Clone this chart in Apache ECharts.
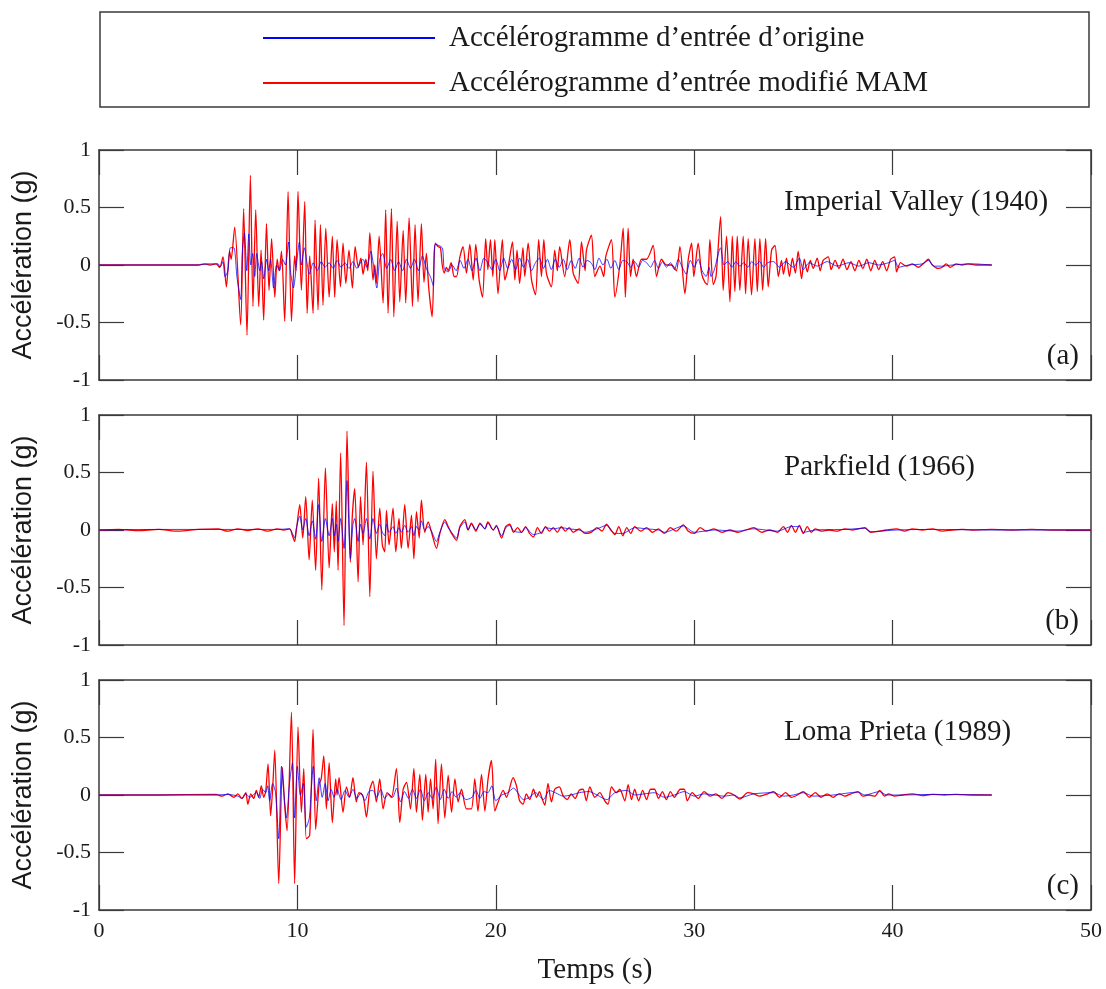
<!DOCTYPE html>
<html>
<head>
<meta charset="utf-8">
<script src="https://cdn.jsdelivr.net/npm/echarts@6/dist/echarts.min.js"></script>
<style>html,body{margin:0;padding:0;background:#fff;}#chart{width:1106px;height:989px;}</style>
</head>
<body>
<div id="chart"></div>
<script>
// ---- tick values ----
const xTicks = [0, 10, 20, 30, 40, 50];
const yTicks = [-1, -0.5, 0, 0.5, 1];

// ---- series names & panel labels ----
const seriesNames = ['Accélérogramme d’entrée d’origine', 'Accélérogramme d’entrée modifié MAM'];
const panelTitles = ['Imperial Valley (1940)', 'Parkfield (1966)', 'Loma Prieta (1989)'];
const panelTags = ['(a)', '(b)', '(c)'];

// ---- (a) Imperial Valley: [time s, acceleration g] ----
const imperialOriginal = [[0,0],[5,0],[5.5,0.01],[6.0,0.01],[6.1,-0.02],[6.25,0.03],[6.35,-0.1],[6.5,-0.05],[6.62,0.15],[6.8,0.15],[6.95,-0.1],[7.14,-0.3],[7.22,0.1],[7.33,0.28],[7.45,-0.05],[7.55,0.27],[7.65,0.0],[7.75,0.1],[7.85,-0.1],[7.95,0.1],[8.1,-0.05],[8.2,0.03],[8.3,-0.12],[8.45,0.05],[8.55,-0.05],[8.65,0.05],[8.8,-0.2],[8.95,0.0],[9.1,-0.05],[9.25,0.05],[9.4,0.0],[9.55,0.2],[9.65,-0.05],[9.8,-0.2],[9.95,0.0],[10.1,0.2],[10.2,0.0],[10.35,0.15],[10.5,0.0],[10.6,-0.08],[10.8,0.02],[11.0,-0.05],[11.2,0.03],[11.4,-0.02],[11.6,0.02],[11.8,-0.03],[12.0,0.04],[12.2,-0.02],[12.4,0.02],[12.6,-0.03],[12.8,0.03],[13.0,-0.03],[13.3,0.05],[13.5,-0.02],[13.7,0.12],[13.85,-0.02],[14.0,-0.2],[14.15,0.05],[14.3,0.1],[14.5,-0.03],[14.7,0.05],[14.9,-0.05],[15.1,0.03],[15.3,-0.05],[15.5,0.05],[15.7,-0.03],[15.9,0.05],[16.1,-0.05],[16.3,0.08],[16.5,-0.03],[16.7,-0.1],[16.85,-0.18],[16.95,0.18],[17.3,0.15],[17.4,-0.03],[17.6,-0.06],[17.8,0.0],[18.0,-0.05],[18.2,0.04],[18.4,-0.03],[18.6,0.05],[18.8,-0.05],[19.0,0.06],[19.2,-0.05],[19.4,0.06],[19.6,0.02],[19.8,-0.04],[20.0,0.05],[20.2,-0.05],[20.4,0.06],[20.6,-0.03],[20.8,0.05],[21.0,-0.04],[21.2,0.06],[21.4,-0.02],[21.6,0.05],[21.8,-0.05],[22.0,0.02],[22.2,0.06],[22.4,-0.03],[22.6,0.05],[22.8,-0.04],[23.0,0.05],[23.2,-0.02],[23.4,0.05],[23.6,-0.04],[23.8,0.04],[24.0,-0.03],[24.2,0.06],[24.4,-0.02],[24.6,0.04],[24.8,0.02],[25.0,-0.04],[25.2,0.06],[25.4,0.0],[25.6,0.05],[25.8,-0.03],[26.0,0.04],[26.2,-0.04],[26.4,0.04],[26.6,0.03],[26.8,-0.02],[27.0,0.03],[27.2,-0.02],[27.4,0.04],[27.6,0.02],[27.8,-0.02],[28.0,0.04],[28.2,-0.03],[28.4,0.03],[28.6,-0.02],[28.8,0.02],[29.0,-0.04],[29.2,0.05],[29.4,-0.02],[29.6,-0.08],[29.8,0.04],[30.0,-0.02],[30.2,0.05],[30.4,-0.05],[30.6,-0.1],[30.75,-0.02],[30.85,-0.1],[31.0,-0.05],[31.33,0.15],[31.5,0.0],[31.7,0.03],[31.9,-0.02],[32.1,0.03],[32.3,-0.01],[32.5,0.02],[32.7,-0.02],[32.9,0.03],[33.1,0.0],[33.3,0.03],[33.5,-0.02],[33.7,0.02],[34.0,0.03],[34.3,-0.02],[34.6,0.03],[35.0,-0.02],[35.3,0.06],[35.5,-0.04],[35.8,0.02],[36.2,-0.01],[36.7,0.03],[37.2,-0.01],[37.8,0.02],[38.3,-0.01],[38.8,0.02],[39.3,0.0],[39.8,0.02],[40.1,0.04],[40.3,-0.02],[40.8,0.0],[41.5,0.01],[41.8,0.04],[42.1,-0.01],[42.5,-0.01],[43.0,0.0],[44.0,0.01],[45.0,0.0]];
const imperialModified = [[0,0],[5.0,0],[5.3,0.01],[5.6,0.0],[5.9,0.01],[6.08,-0.02],[6.25,0.07],[6.42,-0.19],[6.58,0.12],[6.66,0.05],[6.84,0.33],[7.14,-0.52],[7.29,0.49],[7.46,-0.61],[7.63,0.78],[7.76,-0.36],[7.90,0.48],[8.05,-0.36],[8.17,0.13],[8.30,-0.48],[8.44,0.36],[8.57,-0.22],[8.70,0.23],[8.86,-0.28],[8.98,0.05],[9.08,-0.05],[9.2,0.12],[9.36,-0.49],[9.53,0.64],[9.70,-0.49],[9.86,0.08],[9.93,-0.05],[10.03,0.64],[10.20,-0.22],[10.37,0.55],[10.49,-0.42],[10.62,0.08],[10.79,-0.42],[10.89,0.39],[11.04,-0.39],[11.16,0.35],[11.29,-0.35],[11.43,0.32],[11.60,-0.28],[11.76,0.25],[11.88,-0.28],[12.00,0.22],[12.17,-0.19],[12.30,0.19],[12.44,-0.16],[12.60,0.13],[12.77,-0.2],[12.91,0.16],[13.07,-0.02],[13.2,0.06],[13.31,-0.08],[13.45,0.05],[13.55,-0.05],[13.65,0.28],[13.81,-0.13],[13.9,0.0],[13.98,-0.16],[14.12,0.25],[14.32,-0.33],[14.45,0.48],[14.57,-0.42],[14.74,0.49],[14.86,-0.45],[15.03,0.38],[15.16,-0.32],[15.33,0.30],[15.46,-0.33],[15.63,0.41],[15.80,-0.36],[15.93,0.35],[16.08,-0.32],[16.25,0.36],[16.38,-0.15],[16.5,0.1],[16.62,-0.2],[16.79,-0.45],[16.9,0.1],[16.96,0.19],[17.09,0.16],[17.21,0.15],[17.3,0.0],[17.4,-0.07],[17.51,-0.02],[17.6,-0.05],[17.75,0.02],[17.9,-0.1],[18.02,-0.1],[18.19,0.07],[18.35,0.16],[18.52,-0.07],[18.69,0.18],[18.86,-0.13],[18.99,0.18],[19.16,-0.13],[19.33,-0.28],[19.49,0.23],[19.6,-0.04],[19.73,0.22],[19.85,-0.1],[19.95,0.22],[20.11,-0.25],[20.33,0.22],[20.45,-0.13],[20.62,-0.02],[20.84,0.2],[20.96,-0.13],[21.07,0.13],[21.2,-0.16],[21.37,0.15],[21.46,-0.1],[21.63,0.19],[21.8,-0.13],[22.0,-0.26],[22.16,0.22],[22.3,-0.1],[22.42,0.22],[22.55,-0.07],[22.8,-0.19],[22.97,0.13],[23.1,-0.05],[23.22,0.16],[23.47,-0.1],[23.73,0.22],[23.9,-0.07],[24.15,-0.16],[24.32,0.2],[24.5,-0.05],[24.57,0.13],[24.82,0.26],[24.99,-0.1],[25.25,-0.01],[25.44,-0.1],[25.54,0.07],[25.83,0.22],[26.0,-0.28],[26.25,0.0],[26.42,0.32],[26.53,-0.28],[26.67,0.32],[26.79,-0.1],[26.92,0.05],[27.09,-0.1],[27.34,0.05],[27.6,0.05],[27.93,0.17],[28.1,-0.1],[28.35,0.05],[28.6,0.0],[28.86,0.0],[29.1,-0.05],[29.28,0.16],[29.53,-0.25],[29.7,0.05],[29.87,0.19],[29.98,-0.1],[30.2,0.19],[30.37,-0.07],[30.54,-0.15],[30.67,-0.17],[30.79,0.22],[30.96,-0.17],[31.1,-0.1],[31.33,0.42],[31.46,-0.22],[31.63,0.25],[31.8,-0.32],[31.92,0.25],[32.05,-0.23],[32.17,0.25],[32.3,-0.22],[32.47,0.25],[32.59,-0.25],[32.72,0.23],[32.89,-0.26],[33.06,0.23],[33.18,-0.23],[33.31,0.23],[33.45,-0.22],[33.6,0.23],[33.73,-0.19],[33.9,0.13],[34.07,0.17],[34.24,-0.1],[34.4,0.04],[34.5,-0.08],[34.65,0.06],[34.8,-0.1],[34.95,0.06],[35.1,-0.07],[35.24,0.12],[35.41,-0.12],[35.55,0.05],[35.7,-0.06],[35.85,0.04],[36.0,-0.03],[36.2,0.06],[36.35,-0.05],[36.5,0.04],[36.76,0.07],[36.9,-0.04],[37.1,0.04],[37.3,-0.03],[37.5,0.05],[37.7,-0.04],[37.9,0.03],[38.1,-0.05],[38.3,0.04],[38.5,-0.03],[38.7,0.05],[38.9,-0.05],[39.1,0.04],[39.3,-0.04],[39.5,0.03],[39.7,-0.05],[39.9,0.05],[40.1,0.07],[40.2,-0.06],[40.4,0.02],[40.7,-0.01],[41.0,0.01],[41.3,-0.02],[41.6,0.02],[41.8,0.05],[42.0,0.0],[42.3,-0.03],[42.5,-0.02],[42.7,0.01],[42.9,-0.02],[43.2,0.01],[43.5,0.0],[43.8,0.01],[44.2,0.0],[45.0,0.0]];

// ---- (b) Parkfield ----
const parkfieldOriginal = [[0,0],[3,0.005],[6,0.005],[9,0.005],[9.6,0.01],[9.75,-0.03],[9.86,-0.07],[9.95,0.02],[10.12,0.12],[10.27,0.0],[10.42,0.1],[10.59,-0.05],[10.75,0.08],[10.92,-0.08],[11.07,0.22],[11.23,-0.1],[11.41,0.1],[11.6,-0.05],[11.76,0.1],[11.86,-0.05],[11.96,0.05],[12.05,-0.1],[12.18,0.1],[12.35,-0.16],[12.5,0.43],[12.67,-0.25],[12.8,0.05],[12.89,0.1],[13.06,-0.1],[13.18,0.05],[13.31,-0.03],[13.48,0.1],[13.65,-0.08],[13.81,0.1],[13.98,-0.03],[14.15,0.05],[14.28,-0.02],[14.4,-0.05],[14.49,0.05],[14.62,-0.02],[14.82,0.03],[14.96,-0.03],[15.12,0.02],[15.24,-0.02],[15.41,0.04],[15.58,-0.02],[15.75,0.03],[15.87,-0.05],[16.0,0.03],[16.14,0.0],[16.25,0.08],[16.42,0.0],[16.59,0.03],[16.76,-0.01],[17.01,-0.1],[17.18,-0.02],[17.43,0.07],[17.6,0.02],[17.77,-0.02],[18.02,-0.07],[18.19,0.02],[18.44,0.07],[18.6,0.0],[18.77,0.05],[19.0,0.0],[19.2,0.05],[19.45,0.01],[19.6,0.06],[19.87,0.0],[20.03,0.03],[20.29,-0.05],[20.5,0.02],[20.7,0.04],[20.9,-0.01],[21.3,-0.02],[21.5,0.02],[21.9,-0.04],[22.3,-0.02],[22.5,0.02],[22.9,0.01],[23.3,0.02],[23.7,0.01],[24.2,0.0],[24.5,-0.02],[25.1,0.01],[25.58,0.04],[26.0,-0.03],[26.4,-0.03],[27.0,0.02],[27.6,0.01],[28.2,0.0],[28.5,-0.02],[29.45,0.035],[30.0,-0.02],[31.0,0.0],[32.2,-0.01],[33.0,0.01],[34.2,-0.01],[34.9,0.03],[35.3,0.03],[35.5,-0.02],[36.1,0.0],[37.6,0.005],[38.6,0.015],[38.9,-0.015],[40.2,0.0],[42,0.005],[45,0],[50,0]];
const parkfieldModified = [[0,0],[1,0.005],[2,-0.005],[3,0.005],[4,-0.01],[5,0.005],[6,0.01],[6.5,-0.01],[7,0.01],[7.5,-0.005],[8,0.01],[8.5,-0.01],[9,0.01],[9.3,0.0],[9.61,0.01],[9.75,-0.05],[9.86,-0.1],[9.95,0.0],[10.12,0.22],[10.27,-0.07],[10.42,0.29],[10.59,-0.26],[10.75,0.26],[10.92,-0.35],[11.07,0.45],[11.23,-0.52],[11.41,0.54],[11.6,-0.33],[11.76,0.23],[11.86,-0.19],[11.96,0.25],[12.05,-0.35],[12.18,0.67],[12.35,-0.83],[12.5,0.86],[12.67,-0.28],[12.77,0.13],[12.89,0.36],[13.06,-0.45],[13.18,0.29],[13.31,-0.13],[13.48,0.59],[13.65,-0.58],[13.81,0.51],[13.98,-0.25],[14.15,0.19],[14.28,-0.13],[14.4,-0.19],[14.49,0.17],[14.62,-0.13],[14.82,0.19],[14.96,-0.19],[15.12,0.1],[15.24,-0.16],[15.41,0.22],[15.58,-0.16],[15.75,0.13],[15.87,-0.25],[16.0,0.16],[16.14,-0.07],[16.25,0.26],[16.42,-0.02],[16.59,0.07],[16.76,-0.02],[17.01,-0.16],[17.18,-0.03],[17.43,0.09],[17.6,0.03],[17.77,-0.03],[18.02,-0.09],[18.19,0.03],[18.44,0.09],[18.6,0.0],[18.77,0.06],[19.0,-0.01],[19.2,0.06],[19.45,0.01],[19.6,0.07],[19.87,0.0],[20.03,0.04],[20.29,-0.07],[20.5,0.03],[20.7,0.05],[20.9,-0.02],[21.1,0.02],[21.3,-0.02],[21.5,0.03],[21.7,-0.03],[21.9,-0.06],[22.1,0.02],[22.3,-0.03],[22.5,0.03],[22.7,-0.01],[22.9,0.02],[23.1,-0.02],[23.3,0.03],[23.5,-0.01],[23.7,0.02],[23.9,-0.02],[24.2,0.01],[24.5,-0.03],[24.8,-0.02],[25.1,0.02],[25.35,-0.01],[25.58,0.05],[25.8,0.0],[26.0,-0.04],[26.2,0.03],[26.4,-0.05],[26.6,0.02],[26.8,-0.03],[27.0,0.03],[27.3,-0.01],[27.6,0.02],[27.9,-0.02],[28.2,0.01],[28.5,-0.03],[28.8,0.02],[29.1,-0.01],[29.45,0.045],[29.7,-0.01],[30.0,-0.03],[30.3,0.02],[30.6,-0.01],[31.0,0.01],[31.4,-0.02],[31.8,0.0],[32.2,-0.02],[32.6,0.0],[33.0,0.02],[33.4,-0.02],[33.8,0.0],[34.2,-0.02],[34.5,0.03],[34.7,-0.02],[34.9,0.04],[35.1,-0.02],[35.3,0.04],[35.5,-0.03],[35.7,0.03],[35.9,-0.02],[36.1,0.01],[36.4,-0.01],[36.8,0.0],[37.2,-0.01],[37.6,0.01],[38.0,0.0],[38.3,0.01],[38.6,0.02],[38.9,-0.02],[39.3,-0.01],[39.7,0.0],[40.2,0.01],[40.6,-0.01],[41.0,0.01],[41.5,0.0],[42.0,0.01],[42.5,-0.01],[43.0,0.0],[43.5,0.005],[44,0],[45,0.005],[46,0],[47,0.005],[48,0],[49,0],[50,0]];

// ---- (c) Loma Prieta ----
const lomaOriginal = [[0,0],[5.9,0.0],[6.5,0.005],[7.0,-0.01],[7.2,-0.03],[7.4,0.01],[7.6,-0.02],[7.93,0.02],[8.1,-0.03],[8.25,0.05],[8.4,0.02],[8.5,0.08],[8.6,-0.05],[8.75,0.1],[8.9,0.02],[9.06,-0.38],[9.2,0.25],[9.3,0.05],[9.45,-0.2],[9.6,0.1],[9.75,0.28],[9.86,-0.2],[10.0,0.25],[10.15,0.0],[10.3,0.1],[10.45,-0.28],[10.6,-0.2],[10.7,0.05],[10.8,0.25],[10.95,-0.05],[11.1,0.15],[11.25,-0.02],[11.4,0.1],[11.55,-0.05],[11.7,0.05],[11.85,-0.02],[12.0,0.05],[12.2,-0.04],[12.4,0.04],[12.6,-0.02],[12.8,0.05],[13.0,-0.03],[13.2,0.02],[13.4,-0.05],[13.6,0.03],[13.8,0.04],[14.0,-0.02],[14.2,0.05],[14.4,-0.03],[14.6,0.01],[14.8,-0.02],[15.0,0.06],[15.2,-0.06],[15.4,0.03],[15.6,-0.03],[15.8,0.05],[16.0,-0.03],[16.2,0.05],[16.4,-0.05],[16.6,0.02],[16.8,-0.03],[17.0,0.07],[17.2,-0.04],[17.4,0.05],[17.6,-0.03],[17.8,0.03],[18.0,-0.02],[18.2,0.02],[18.5,-0.04],[18.8,-0.02],[19.0,0.04],[19.2,-0.03],[19.4,0.03],[19.6,0.02],[19.8,0.08],[20.0,-0.05],[20.3,0.0],[20.6,0.02],[20.9,0.06],[21.1,0.02],[21.4,-0.04],[21.7,-0.02],[22.0,0.02],[22.4,-0.04],[22.7,0.04],[23.0,0.02],[23.4,-0.01],[23.8,0.0],[24.2,0.02],[24.7,0.03],[25.1,0.0],[25.6,-0.04],[26.0,0.02],[26.6,0.04],[27.0,0.0],[27.5,0.01],[28.0,0.02],[28.5,-0.02],[29.0,0.0],[29.5,0.03],[30.0,-0.01],[30.5,0.01],[31.0,0.0],[31.5,-0.01],[32.0,0.0],[32.3,-0.025],[33,0.01],[34,0.02],[34.5,-0.01],[35,0.0],[35.5,0.02],[36,-0.01],[37,0.0],[38.26,0.025],[38.6,0.0],[39.35,0.03],[39.7,0.0],[40.5,0.0],[42,0.005],[45,0]];
const lomaModified = [[0,0],[3,0],[5.9,0.005],[6.2,-0.01],[6.5,0.01],[6.8,-0.02],[7.0,0.01],[7.2,-0.03],[7.4,0.02],[7.5,-0.08],[7.65,0.01],[7.8,-0.03],[7.93,0.04],[8.05,-0.02],[8.18,0.08],[8.3,-0.02],[8.4,0.03],[8.52,0.27],[8.65,-0.18],[8.75,0.05],[8.86,0.39],[9.06,-0.77],[9.24,0.24],[9.36,-0.09],[9.48,-0.31],[9.70,0.72],[9.86,-0.77],[10.03,0.59],[10.2,-0.15],[10.32,0.23],[10.45,-0.38],[10.62,-0.35],[10.79,0.57],[10.92,-0.3],[11.1,0.1],[11.2,0.14],[11.33,0.34],[11.46,-0.12],[11.6,0.28],[11.76,-0.24],[11.93,0.14],[12.0,0.0],[12.1,0.15],[12.3,-0.15],[12.47,0.07],[12.63,-0.02],[12.8,0.15],[12.97,-0.06],[13.1,0.02],[13.31,-0.01],[13.48,-0.19],[13.65,0.05],[13.81,0.12],[13.98,-0.06],[14.15,0.14],[14.32,-0.12],[14.52,0.02],[14.74,-0.02],[14.99,0.23],[15.16,-0.24],[15.33,0.05],[15.5,0.11],[15.7,-0.12],[15.87,0.23],[16.0,-0.15],[16.17,0.18],[16.3,-0.22],[16.47,0.18],[16.59,-0.15],[16.71,0.14],[16.84,-0.12],[16.97,0.31],[17.09,-0.25],[17.26,0.27],[17.43,-0.2],[17.6,0.17],[17.77,-0.15],[17.94,0.14],[18.1,-0.06],[18.27,0.05],[18.52,-0.12],[18.77,-0.12],[18.94,0.14],[19.1,-0.14],[19.28,0.18],[19.45,-0.14],[19.61,0.14],[19.78,0.3],[19.95,-0.14],[20.12,-0.06],[20.37,0.04],[20.54,-0.02],[20.87,0.15],[21.04,0.08],[21.2,-0.05],[21.37,-0.08],[21.54,0.01],[21.71,-0.04],[21.9,0.05],[22.05,-0.02],[22.2,0.03],[22.35,-0.04],[22.47,-0.09],[22.63,0.1],[22.8,-0.06],[22.97,0.05],[23.2,0.07],[23.4,-0.01],[23.6,-0.04],[23.8,0.01],[24.0,-0.03],[24.2,0.04],[24.4,0.05],[24.56,-0.05],[24.74,0.07],[24.99,-0.02],[25.24,0.02],[25.49,-0.05],[25.66,-0.08],[25.83,0.07],[26.08,0.02],[26.25,0.05],[26.5,-0.05],[26.67,0.09],[26.84,-0.04],[27.0,0.05],[27.2,-0.05],[27.4,0.04],[27.6,-0.04],[27.8,0.05],[28.0,0.05],[28.2,-0.03],[28.4,0.03],[28.6,-0.04],[28.8,0.03],[29.0,-0.02],[29.3,0.05],[29.5,0.05],[29.65,-0.05],[29.9,0.02],[30.2,-0.03],[30.5,0.03],[30.8,-0.01],[31.1,0.01],[31.4,-0.03],[31.7,0.02],[32.0,0.0],[32.3,-0.035],[32.7,0.02],[33.0,0.01],[33.3,-0.01],[33.7,0.01],[34.0,0.03],[34.3,-0.02],[34.6,0.02],[34.9,-0.02],[35.2,0.0],[35.5,0.03],[35.8,-0.02],[36.1,0.02],[36.4,-0.02],[36.7,0.01],[37.0,-0.02],[37.3,0.01],[37.6,-0.01],[37.9,0.01],[38.26,0.03],[38.5,-0.01],[38.8,0.0],[39.1,-0.01],[39.35,0.04],[39.6,-0.01],[39.8,0.01],[40.1,-0.01],[40.5,0.0],[41,0.01],[41.5,-0.005],[42,0.005],[42.6,0.0],[43.2,0.005],[44,0],[45,0]];

const panels = [
  { orig: imperialOriginal, mod: imperialModified },
  { orig: parkfieldOriginal, mod: parkfieldModified },
  { orig: lomaOriginal, mod: lomaModified }
];

const SERIF = '"Liberation Serif", "Times New Roman", serif';
const SANS = '"Liberation Sans", Arial, sans-serif';
const TXT = '#1a1a1a';
const AX = '#3a3a3a';
const gridLeft = 99, gridWidth = 992, gridHeight = 230;
const gridTops = [150, 415, 680];

const grids = [], xAxes = [], yAxes = [], series = [], graphics = [];
gridTops.forEach((top, i) => {
  grids.push({ left: gridLeft, top: top, width: gridWidth, height: gridHeight, show: false });
  const isLast = i === gridTops.length - 1;
  const xBase = {
    gridIndex: i, type: 'value', min: xTicks[0], max: xTicks[xTicks.length - 1], interval: xTicks[1] - xTicks[0],
    axisLine: { show: true, onZero: false, lineStyle: { color: AX, width: 1.5 } },
    axisTick: { show: true, inside: true, length: 25, lineStyle: { color: AX, width: 1.2 } },
    splitLine: { show: false }
  };
  xAxes.push(Object.assign({}, xBase, {
    position: 'bottom',
    axisLabel: { show: isLast, margin: 10, fontSize: 22, fontFamily: SERIF, color: TXT }
  }));
  xAxes.push(Object.assign({}, xBase, { position: 'top', axisLabel: { show: false } }));
  const yBase = {
    gridIndex: i, type: 'value', min: yTicks[0], max: yTicks[yTicks.length - 1], interval: yTicks[1] - yTicks[0],
    axisLine: { show: true, onZero: false, lineStyle: { color: AX, width: 1.5 } },
    axisTick: { show: true, inside: true, length: 25, lineStyle: { color: AX, width: 1.2 } },
    splitLine: { show: false }
  };
  yAxes.push(Object.assign({}, yBase, {
    position: 'left',
    axisLabel: { show: true, margin: 8, fontSize: 22, fontFamily: SERIF, color: TXT }
  }));
  yAxes.push(Object.assign({}, yBase, { position: 'right', axisLabel: { show: false } }));

  series.push({
    name: seriesNames[1], type: 'line', xAxisIndex: 2 * i, yAxisIndex: 2 * i,
    data: panels[i].mod, showSymbol: false, symbol: 'none', animation: false, smooth: 0.25,
    lineStyle: { color: '#ff0000', width: 1.3 }, itemStyle: { color: '#ff0000' }, z: 2
  });
  series.push({
    name: seriesNames[0], type: 'line', xAxisIndex: 2 * i, yAxisIndex: 2 * i,
    data: panels[i].orig, showSymbol: false, symbol: 'none', animation: false, smooth: 0.25,
    lineStyle: { color: '#0000ff', width: 1, opacity: 0.75 }, itemStyle: { color: '#0000ff' }, z: 3
  });

  graphics.push({
    type: 'text', x: 784, y: top + 52,
    style: { text: panelTitles[i], font: '29px ' + SERIF, fill: TXT, align: 'left', verticalAlign: 'middle' }
  });
  graphics.push({
    type: 'text', x: 1079, y: top + 206,
    style: { text: panelTags[i], font: '29px ' + SERIF, fill: TXT, align: 'right', verticalAlign: 'middle' }
  });
  graphics.push({
    type: 'text', x: 24, y: top + 115, rotation: Math.PI / 2,
    style: { text: 'Accélération (g)', font: '27px ' + SANS, fill: TXT, align: 'center', verticalAlign: 'middle' }
  });
});

graphics.push({
  type: 'rect', shape: { x: 100, y: 12, width: 989, height: 95 },
  style: { fill: 'none', stroke: AX, lineWidth: 1.5 }, z: 0
});
graphics.push({
  type: 'text', x: 595, y: 970,
  style: { text: 'Temps (s)', font: '29px ' + SERIF, fill: TXT, align: 'center', verticalAlign: 'middle' }
});

const chart = echarts.init(document.getElementById('chart'), null, { renderer: 'canvas' });
chart.setOption({
  backgroundColor: '#ffffff',
  animation: false,
  grid: grids,
  xAxis: xAxes,
  yAxis: yAxes,
  legend: {
    data: [seriesNames[0], seriesNames[1]],
    orient: 'vertical', left: 263, top: 23, itemGap: 15, padding: 0,
    itemWidth: 172, itemHeight: 2, icon: 'rect',
    textStyle: { fontSize: 29, fontFamily: SERIF, color: TXT, lineHeight: 30, padding: [0, 0, 0, 9] },
    selectedMode: false
  },
  graphic: graphics,
  series: series
});
</script>
</body>
</html>
